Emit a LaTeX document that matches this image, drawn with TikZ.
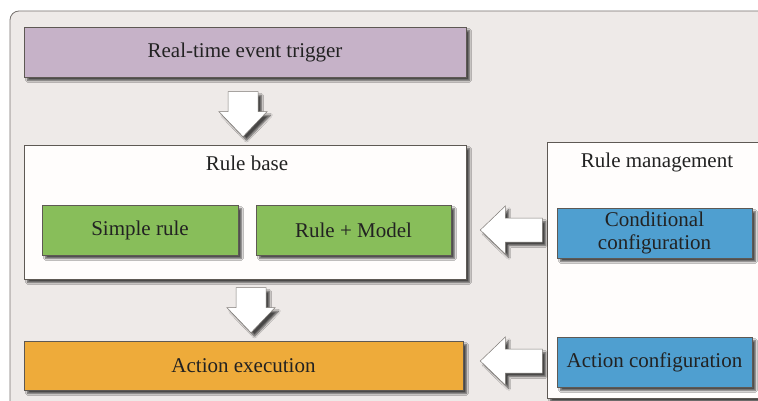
\documentclass[tikz,border=0pt]{standalone}
\usepackage{fontspec}
\setmainfont{Liberation Serif}
\usetikzlibrary{shadows.blur,calc}
\definecolor{panelfill}{HTML}{EEEAE8}
\definecolor{panelline}{HTML}{77726F}
\definecolor{boxline}{HTML}{5E5954}
\definecolor{trigfill}{HTML}{C6B2C8}
\definecolor{greenfill}{HTML}{88BE5A}
\definecolor{orangefill}{HTML}{EEAB3A}
\definecolor{bluefill}{HTML}{4F9FD0}
\definecolor{whitefill}{HTML}{FFFDFC}
\definecolor{inkcol}{HTML}{222222}
\tikzset{
  dropshade/.style={blur shadow={shadow xshift=3.5pt,shadow yshift=-3.5pt,shadow blur steps=6,shadow opacity=70}},
  box/.style={draw=boxline,line width=0.6pt,dropshade,font=\fontsize{21}{23}\selectfont,text=inkcol,align=center,inner sep=0pt},
  txt/.style={font=\fontsize{21}{23}\selectfont,text=inkcol,align=center,inner sep=0pt},
  blockarrow/.style={draw=boxline!80,line width=0.5pt,fill=white,dropshade},
  darrow/.pic={\filldraw[blockarrow] (0,0) -- (24,-25) -- (15,-25) -- (15,-45) -- (-15,-45) -- (-15,-25) -- (-24,-25) -- cycle;},
  larrow/.pic={\filldraw[blockarrow] (0,0) -- (25,-24) -- (25,-12) -- (62,-12) -- (62,12) -- (25,12) -- (25,24) -- cycle;}
}
\begin{document}
\begin{tikzpicture}[x=1pt,y=-1pt]
\useasboundingbox (0,0) rectangle (758,401);
% background panel
\fill[white] (0,0) rectangle (758,401);
\draw[panelline,fill=panelfill,line width=0.8pt,rounded corners=9pt] (10,11) rectangle (800,440);
% left column
\node[box,fill=trigfill,minimum width=442pt,minimum height=50pt] (trig) at (245,52) {Real-time event trigger};
\node[box,fill=whitefill,minimum width=442pt,minimum height=134pt] (base) at (245,212) {};
\node[txt] (baselbl) at (247,163) {Rule base};
\node[box,fill=greenfill,minimum width=196pt,minimum height=50pt] (simple) at (140,230) {Simple rule};
\node[box,fill=greenfill,minimum width=195pt,minimum height=50pt] (model) at (353.5,230) {Rule + Model};
\node[box,fill=orangefill,minimum width=439pt,minimum height=49pt] (action) at (243.5,365.5) {Action execution};
% right column
\node[box,fill=whitefill,minimum width=228pt,minimum height=256pt] (mgmt) at (661,270) {};
\node[txt] (mgmtlbl) at (657,162) {Rule management};
\node[box,fill=bluefill,minimum width=195pt,minimum height=50pt,font=\fontsize{21}{22.5}\selectfont] (cond) at (654.5,233) {Conditional\\configuration};
\node[box,fill=bluefill,minimum width=195pt,minimum height=50pt] (actcfg) at (654.5,362) {Action configuration};
% block arrows between the boxes
\pic at ($(base.north)+(-2,-8)$) {darrow};
\pic at ($(action.north)+(7.5,-8)$) {darrow};
\pic at ($(base.east |- cond.west)+(14,-3)$) {larrow};
\pic at ($(base.east |- actcfg.west)+(14,-1)$) {larrow};
\end{tikzpicture}
\end{document}
